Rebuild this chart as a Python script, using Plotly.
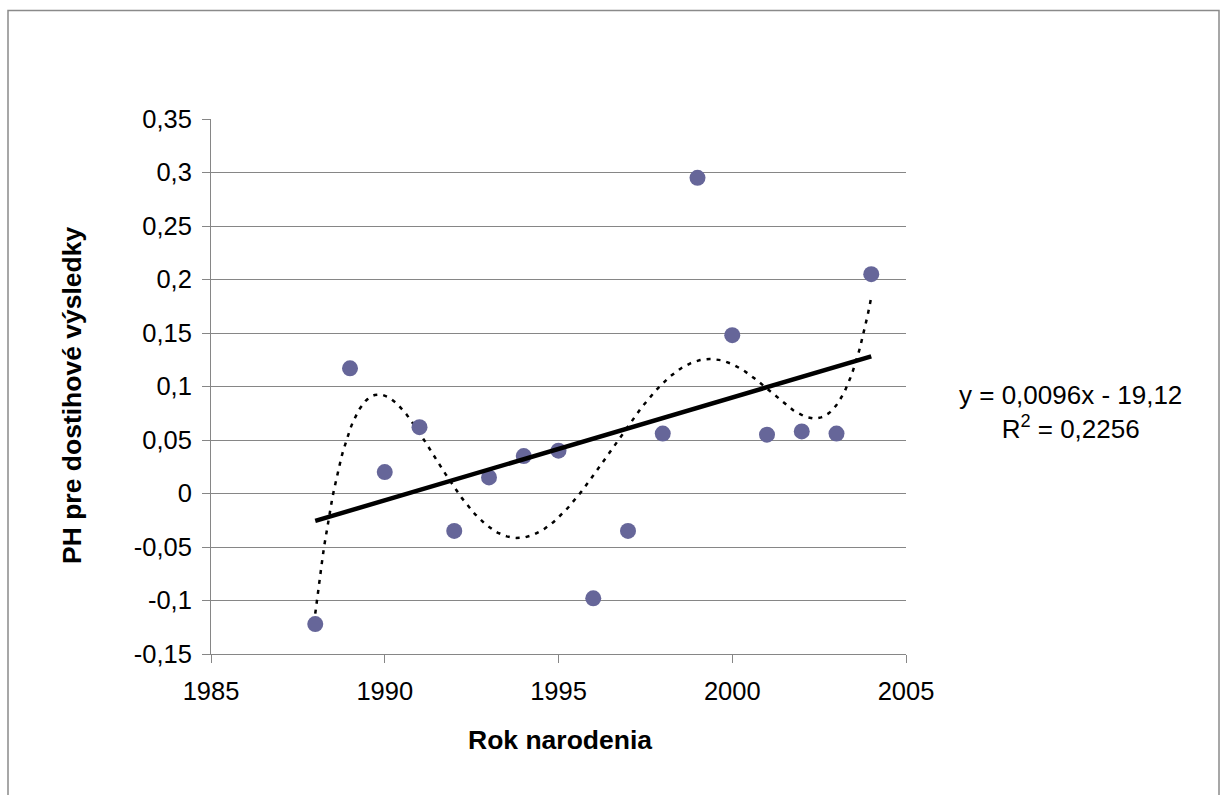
import numpy as np
import plotly.graph_objects as go

years = [1988, 1989, 1990, 1991, 1992, 1993, 1994, 1995, 1996, 1997, 1998, 1999, 2000, 2001, 2002, 2003, 2004]
values = [-0.122, 0.117, 0.020, 0.062, -0.035, 0.015, 0.035, 0.040, -0.098, -0.035, 0.056, 0.295, 0.148, 0.055, 0.058, 0.056, 0.205]

y_tickvals = [-0.15, -0.1, -0.05, 0, 0.05, 0.1, 0.15, 0.2, 0.25, 0.3, 0.35]
y_ticktext = ["-0,15", "-0,1", "-0,05", "0", "0,05", "0,1", "0,15", "0,2", "0,25", "0,3", "0,35"]
x_tickvals = [1985, 1990, 1995, 2000, 2005]

x_title = "Rok narodenia"
y_title = "PH pre dostihové výsledky"
eq_text = "y = 0,0096x - 19,12<br>R<sup>2</sup> = 0,2256"

xa = np.array(years, dtype=float)
ya = np.array(values, dtype=float)
xc = xa - xa.mean()

# linear trend
lin = np.polyfit(xc, ya, 1)
x_line = np.array([xa.min(), xa.max()])
y_line = np.polyval(lin, x_line - xa.mean())

# polynomial trend
poly = np.polyfit(xc, ya, 5)
x_poly = np.linspace(xa.min(), xa.max(), 300)
y_poly = np.polyval(poly, x_poly - xa.mean())

FONT = "Liberation Sans, Arial, sans-serif"
GRAY = "#868686"

fig = go.Figure()
fig.add_trace(go.Scatter(x=x_poly, y=y_poly, mode="lines",
                         line=dict(color="black", width=2.5, dash="4px,6px"),
                         hoverinfo="skip", showlegend=False))
fig.add_trace(go.Scatter(x=years, y=values, mode="markers",
                         marker=dict(color="#666699", size=16),
                         showlegend=False))
fig.add_trace(go.Scatter(x=x_line, y=y_line, mode="lines",
                         line=dict(color="black", width=4.5),
                         hoverinfo="skip", showlegend=False))

L, R, T, B = 211, 1223 - 906, 119, 795 - 654
W, H = 1223, 795
pw, ph = W - L - R, H - T - B

def px_x(p):
    return (p - L) / pw

def px_y(p):
    return (H - B - p) / ph

fig.update_layout(
    width=W, height=H,
    margin=dict(l=L, r=R, t=T, b=B, autoexpand=False),
    paper_bgcolor="white", plot_bgcolor="white",
    font=dict(family=FONT, size=25, color="black"),
    xaxis=dict(range=[1985, 2005], tickvals=x_tickvals, showgrid=False,
               showline=True, linecolor=GRAY, linewidth=1,
               ticks="outside", ticklen=8, tickcolor=GRAY,
               ticklabelstandoff=6, zeroline=False,
               tickfont=dict(size=25.5, family=FONT)),
    yaxis=dict(range=[-0.15, 0.35], tickvals=y_tickvals, ticktext=y_ticktext,
               showgrid=True, gridcolor=GRAY, gridwidth=1,
               showline=True, linecolor=GRAY, linewidth=1,
               ticks="outside", ticklen=8, tickcolor=GRAY,
               ticklabelstandoff=5, zeroline=False,
               tickfont=dict(size=25.5, family=FONT)),
    shapes=[dict(type="rect", xref="paper", yref="paper",
                 x0=px_x(8), x1=px_x(1219), y0=px_y(805), y1=px_y(10.5),
                 line=dict(color="#8a8a8a", width=1.5), fillcolor="rgba(0,0,0,0)",
                 layer="below")],
    annotations=[
        dict(text="<b>" + x_title + "</b>", xref="paper", yref="paper", x=px_x(560), y=px_y(740),
             showarrow=False, font=dict(size=26.5, family=FONT, color="black"),
             xanchor="center", yanchor="middle"),
        dict(text="<b>" + y_title + "</b>", xref="paper", yref="paper", x=px_x(72), y=px_y(395),
             showarrow=False, textangle=-90,
             font=dict(size=26.5, family=FONT, color="black"),
             xanchor="center", yanchor="middle"),
        dict(text=eq_text, xref="paper", yref="paper", x=px_x(1070), y=px_y(412),
             showarrow=False, align="center",
             font=dict(size=26, family=FONT, color="black"),
             xanchor="center", yanchor="middle"),
    ],
)

fig.write_html("out.html", config={"displayModeBar": False},
               post_script="document.body.style.margin='0px';document.body.style.overflow='hidden';")
